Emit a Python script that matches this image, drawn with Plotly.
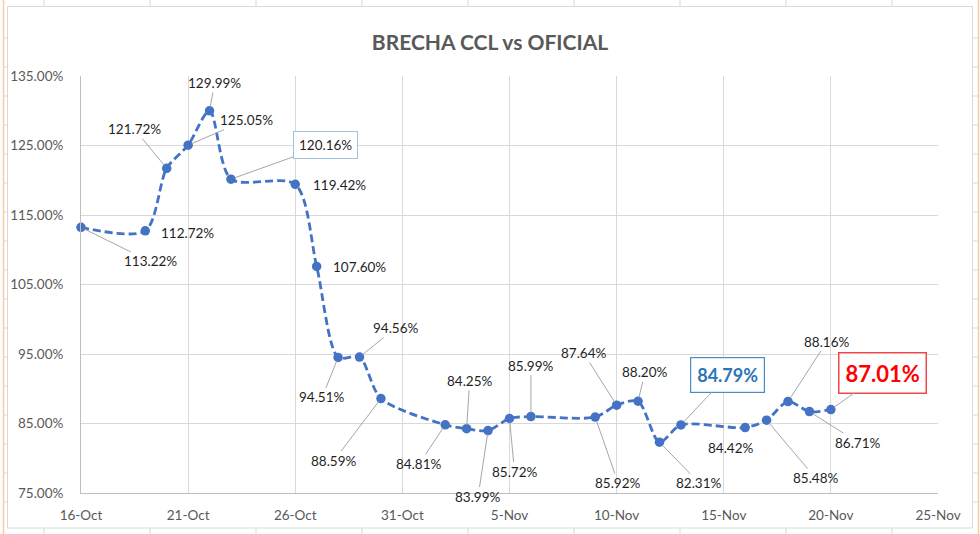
import plotly.graph_objects as go

# ---------------- data ----------------
dates = ["2023-10-16", "2023-10-19", "2023-10-20", "2023-10-21", "2023-10-22", "2023-10-23",
         "2023-10-26", "2023-10-27", "2023-10-28", "2023-10-29", "2023-10-30",
         "2023-11-02", "2023-11-03", "2023-11-04", "2023-11-05", "2023-11-06",
         "2023-11-09", "2023-11-10", "2023-11-11", "2023-11-12", "2023-11-13",
         "2023-11-16", "2023-11-17", "2023-11-18", "2023-11-19", "2023-11-20"]
brecha = [113.22, 112.72, 121.72, 125.05, 129.99, 120.16,
          119.42, 107.60, 94.51, 94.56, 88.59,
          84.81, 84.25, 83.99, 85.72, 85.99,
          85.92, 87.64, 88.20, 82.31, 84.79,
          84.42, 85.48, 88.16, 86.71, 87.01]
title_text = "BRECHA CCL vs OFICIAL"
x_range = ["2023-10-16", "2023-11-25"]
y_range = [75, 135]

# ---------------- label layout (pixel offsets of label centre from the point) ----------------
label_offsets = [(69, 34), (42, 2), (-32, -39), (58, -25), (5, -28), (95, -34),
                 (44, 1), (43, 1), (-16, 40), (36, -29), (-47, 62),
                 (-26, 39), (3, -48), (-10, 66), (5, 53), (0, -51),
                 (23, 66), (-33, -52), (7, -29), (40, 41), (47, -50),
                 (-14, 20), (49, 58), (39, -60), (49, 31), (52, -37)]
no_leader = {1, 6, 7, 21}
special = {5: "box_light", 20: "box_blue", 25: "box_red"}

W, H = 980, 534
L, R, T, B = 81, 42, 76, 41
PW, PH = W - L - R, H - T - B


def px(xp):
    return (xp - L) / PW


def py(yp):
    return (H - B - yp) / PH


LINE_COLOR = "#4472C4"
FONT = "Lato"

fig = go.Figure()
fig.add_trace(go.Scatter(
    x=dates, y=brecha, mode="lines+markers",
    line=dict(color=LINE_COLOR, width=2.8, dash="8px,4px", shape="spline", smoothing=0.8),
    marker=dict(color=LINE_COLOR, size=9.5),
    cliponaxis=False, hoverinfo="x+y", showlegend=False,
))

annotations = []
for i, (d, v) in enumerate(zip(dates, brecha)):
    ax, ay = label_offsets[i]
    txt = f"{v:.2f}%"
    a = dict(x=d, y=v, xref="x", yref="y", text=txt, showarrow=True,
             ax=ax, ay=ay, arrowhead=0, arrowwidth=1, arrowcolor="#A6A6A6",
             standoff=4, font=dict(family=FONT, size=13.5, color="#1F1F1F"))
    if i in no_leader:
        a["arrowcolor"] = "rgba(0,0,0,0)"
    st = special.get(i)
    if st == "box_light":
        a.update(bordercolor="#9DC3E6", borderwidth=1, borderpad=5, bgcolor="white")
    elif st == "box_blue":
        a.update(bordercolor="#4A8BC9", borderwidth=1.2, borderpad=6, bgcolor="white",
                 font=dict(family=FONT, size=18, color="#2E75B6", weight="bold"))
    elif st == "box_red":
        a.update(bordercolor="#F04848", borderwidth=1.5, borderpad=6, bgcolor="white",
                 font=dict(family=FONT, size=22, color="#FF0000", weight="bold"))
    annotations.append(a)

# ---------------- decorative sheet frame ----------------
shapes = []
shapes.append(dict(type="rect", xref="paper", yref="paper",
                   x0=px(7.5), x1=px(972.5), y0=py(528), y1=py(6.5),
                   line=dict(color="#D9D9D9", width=1), layer="below"))
for xo in (3.5, 978.5):
    shapes.append(dict(type="line", xref="paper", yref="paper",
                       x0=px(xo), x1=px(xo), y0=py(0), y1=py(534),
                       line=dict(color="#F8CBAD", width=1.5)))
for xs in range(44, 972, 106):
    shapes.append(dict(type="line", xref="paper", yref="paper",
                       x0=px(xs), x1=px(xs), y0=py(0), y1=py(6.5),
                       line=dict(color="#D9D9D9", width=1)))
    shapes.append(dict(type="line", xref="paper", yref="paper",
                       x0=px(xs), x1=px(xs), y0=py(528), y1=py(534),
                       line=dict(color="#D9D9D9", width=1)))
for ys in range(38, 528, 29):
    for (a0, a1) in ((4, 7.5), (972.5, 978)):
        shapes.append(dict(type="line", xref="paper", yref="paper",
                           x0=px(a0), x1=px(a1), y0=py(ys), y1=py(ys),
                           line=dict(color="#D9D9D9", width=1)))

fig.update_layout(
    width=W, height=H,
    margin=dict(l=L, r=R, t=T, b=B, autoexpand=False),
    paper_bgcolor="white", plot_bgcolor="white",
    title=dict(text=title_text, x=0.5, xref="container", xanchor="center",
               y=1 - 43 / H, yref="container", yanchor="middle",
               font=dict(family=FONT, size=21, color="#595959", weight="bold")),
    annotations=annotations,
    shapes=shapes,
    showlegend=False,
)
fig.update_xaxes(
    type="date", range=x_range, tick0=x_range[0], dtick=5 * 86400000,
    tickformat="%-d-%b", showgrid=True, gridcolor="#D9D9D9", gridwidth=1,
    showline=True, linecolor="#BFBFBF", linewidth=1, mirror=False,
    ticks="", ticklabelstandoff=10, zeroline=False,
    tickfont=dict(family=FONT, size=13.5, color="#595959"),
)
fig.update_yaxes(
    range=y_range, tick0=75, dtick=10, tickformat=".2f", ticksuffix="%",
    showgrid=True, gridcolor="#D9D9D9", gridwidth=1,
    showline=True, linecolor="#BFBFBF", linewidth=1,
    ticks="", ticklabelstandoff=14, zeroline=False,
    tickfont=dict(family=FONT, size=13.5, color="#595959"),
)

fig.write_html("out.html", config={"displayModeBar": False},
               post_script="document.body.style.margin='0';document.body.style.overflow='hidden';")
